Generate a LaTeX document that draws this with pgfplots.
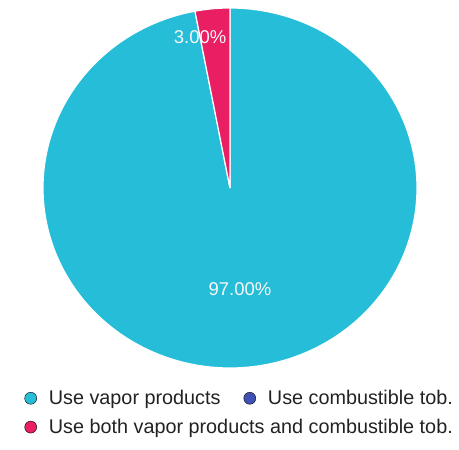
\documentclass[border=0pt]{standalone}
\usepackage{pgfplots}
\usepackage{pgfplotstable}
\pgfplotsset{compat=1.18}
\usepackage{fontspec}
\setmainfont{Liberation Sans}

\definecolor{vaporC}{HTML}{26BDD8}
\definecolor{combC}{HTML}{3F51B5}
\definecolor{bothC}{HTML}{E91E63}
\definecolor{legtext}{HTML}{222222}

% shares in percent: vapor only, combustible only, both
\pgfplotstableread{
share
97
0
3
}\pieshares

\pgfplotsset{
  dot legend/.style={legend image code/.code={\fill (6bp,0bp) circle (6bp);}},
}

\begin{document}
\begin{tikzpicture}
\path (0,0) rectangle (459bp,450bp);
\pgfplotstablegetelem{0}{share}\of\pieshares \let\sA\pgfplotsretval
\pgfplotstablegetelem{1}{share}\of\pieshares \let\sB\pgfplotsretval
\pgfplotstablegetelem{2}{share}\of\pieshares \let\sC\pgfplotsretval
% slices run clockwise from twelve o'clock
\pgfmathsetmacro\aStart{90}
\pgfmathsetmacro\aEnd{90-3.6*\sA}
\pgfmathsetmacro\bEnd{\aEnd-3.6*\sB}
\pgfmathsetmacro\cEnd{\bEnd-3.6*\sC}
\begin{axis}[
  at={(43bp,82bp)}, anchor=south west,
  scale only axis, width=374bp, height=360bp,
  xmin=-1, xmax=1, ymin=-1, ymax=1,
  hide axis, clip=false,
  legend columns=2,
  legend cell align=left,
  legend style={
    at={(-0.050,-0.056)}, anchor=north west,
    draw=none, fill=none, inner sep=0pt,
    font=\fontsize{19.8bp}{22bp}\selectfont\color{legtext},
    row sep=9bp,
    /tikz/every odd column/.append style={column sep=10bp},
    /tikz/every even column/.append style={column sep=21bp},
  },
]
% vapor products slice
\addplot[forget plot, fill=vaporC, draw=white, line width=1.2pt,
  domain=\aEnd:\aStart, samples=300, variable=\t]
  ({cos(t)},{sin(t)}) -- (axis cs:0,0) -- cycle;
% the combustible-only share is zero, so it has no slice
% both products slice
\addplot[forget plot, fill=bothC, draw=white, line width=1.2pt,
  domain=\cEnd:\bEnd, samples=30, variable=\t]
  ({cos(t)},{sin(t)}) -- (axis cs:0,0) -- cycle;

\node[text=white!94!gray, font=\fontsize{18.5bp}{21bp}\selectfont] at (axis cs:0.053,-0.56) {\sA.00\%};
\node[text=white!94!gray, font=\fontsize{18.5bp}{21bp}\selectfont] at (axis cs:-0.16,0.84) {\sC.00\%};

\addlegendimage{dot legend, fill=vaporC}
\addlegendentry{Use vapor products}
\addlegendimage{dot legend, fill=combC}
\addlegendentry{Use combustible tob.}
\addlegendimage{dot legend, fill=bothC}
\addlegendentry{\makebox[0pt][l]{Use both vapor products and combustible tob.}}
\end{axis}
\end{tikzpicture}
\end{document}
